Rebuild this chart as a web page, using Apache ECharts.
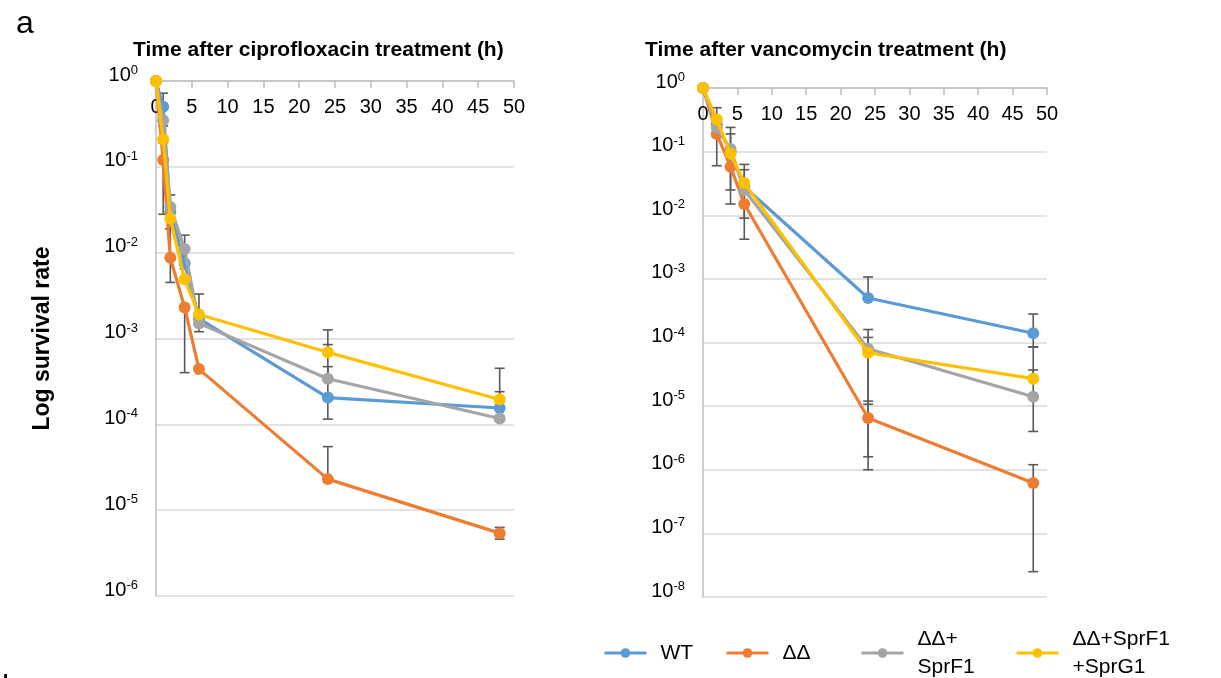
<!DOCTYPE html>
<html><head><meta charset="utf-8">
<script src="https://cdn.jsdelivr.net/npm/echarts@6/dist/echarts.min.js"></script>
<style>html,body{margin:0;padding:0;background:#fff}#c{width:1221px;height:678px}</style>
</head><body><div id="c"></div>
<script>
const seriesNames = ['WT', 'ΔΔ', 'ΔΔ+SprF1', 'ΔΔ+SprF1+SprG1'];
const legendLabels = ['WT', 'ΔΔ', 'ΔΔ+\nSprF1', 'ΔΔ+SprF1\n+SprG1'];
const colors = ['#5B9BD5', '#ED7D31', '#A5A5A5', '#FFC000'];
const xTicks = [0, 5, 10, 15, 20, 25, 30, 35, 40, 45, 50];

// ciprofloxacin panel
const ciproTimes = [0, 1, 2, 4, 6, 24, 48];
const ciproWT = [1, 0.5, 0.03, 0.0075, 0.0017, 2.05e-4, 1.55e-4];
const ciproDD = [1, 0.12, 0.0087, 0.0023, 4.4e-4, 2.3e-5, 5.4e-6];
const ciproF1 = [1, 0.35, 0.034, 0.011, 0.0015, 3.4e-4, 1.17e-4];
const ciproF1G1 = [1, 0.21, 0.025, 0.0049, 0.0019, 6.9e-4, 1.95e-4];
// error bars: [time, low, high]
const ciproWTErr = [[1, 0.3, 0.72], [24, 1.15e-4, 4.7e-4], [48, 1.55e-4, 2.4e-4]];
const ciproDDErr = [[1, 0.028, 0.19], [2, 0.0045, 0.019], [4, 4.0e-4, 0.0023], [24, 2.3e-5, 5.5e-5], [48, 4.6e-6, 6.3e-6]];
const ciproF1Err = [[2, 0.034, 0.047], [4, 0.0065, 0.016], [6, 0.0012, 0.0015], [24, 3.4e-4, 8.5e-4]];
const ciproF1G1Err = [[2, 0.019, 0.025], [6, 0.0019, 0.0033], [24, 6.9e-4, 1.26e-3], [48, 1.95e-4, 4.5e-4]];

// vancomycin panel
const vancoTimes = [0, 2, 4, 6, 24, 48];
const vancoWT = [1, 0.27, 0.1, 0.028, 5.0e-4, 1.4e-4];
const vancoDD = [1, 0.19, 0.058, 0.015, 6.5e-6, 6.2e-7];
const vancoF1 = [1, 0.24, 0.11, 0.025, 8e-5, 1.4e-5];
const vancoF1G1 = [1, 0.32, 0.093, 0.032, 6.9e-5, 2.7e-5];
const vancoWTErr = [[2, 0.27, 0.49], [4, 0.025, 0.1], [6, 0.009, 0.028], [24, 5.0e-4, 1.07e-3], [48, 8.5e-5, 2.8e-4]];
const vancoDDErr = [[2, 0.06, 0.19], [4, 0.015, 0.058], [6, 0.0042, 0.015], [24, 1.0e-6, 1.2e-5], [48, 2.5e-8, 1.2e-6]];
const vancoF1Err = [[2, 0.17, 0.24], [4, 0.11, 0.24], [6, 0.025, 0.052], [24, 1.6e-6, 1.6e-4], [48, 4e-6, 3.7e-5]];
const vancoF1G1Err = [[4, 0.093, 0.19], [6, 0.032, 0.063], [24, 1.07e-5, 1.2e-4], [48, 2.7e-5, 8.5e-5]];

const FONT = 'Liberation Sans, Arial, Helvetica, sans-serif';

const ciproVals = [ciproWT, ciproDD, ciproF1, ciproF1G1];
const ciproErrs = [ciproWTErr, ciproDDErr, ciproF1Err, ciproF1G1Err];
const vancoVals = [vancoWT, vancoDD, vancoF1, vancoF1G1];
const vancoErrs = [vancoWTErr, vancoDDErr, vancoF1Err, vancoF1G1Err];

function errRender(params, api) {
  const x = api.value(0), lo = api.value(1), hi = api.value(2);
  const p1 = api.coord([x, lo]);
  const p2 = api.coord([x, hi]);
  const w = 5;
  const st = { stroke: '#595959', lineWidth: 1.6 };
  return { type: 'group', children: [
    { type: 'line', shape: { x1: p1[0], y1: p1[1], x2: p2[0], y2: p2[1] }, style: st },
    { type: 'line', shape: { x1: p1[0] - w, y1: p1[1], x2: p1[0] + w, y2: p1[1] }, style: st },
    { type: 'line', shape: { x1: p2[0] - w, y1: p2[1], x2: p2[0] + w, y2: p2[1] }, style: st }
  ]};
}

function yLabel(v) {
  const e = Math.round(Math.log10(v));
  return '{b|10}{s|' + e + '}';
}

function makeX(idx) {
  return {
    type: 'value', gridIndex: idx, position: 'top', min: 0, max: 50, interval: 5,
    axisLine: { show: true, lineStyle: { color: '#BFBFBF', width: 1.5 } },
    axisTick: { show: true, inside: true, length: 7, lineStyle: { color: '#BFBFBF', width: 1.5 } },
    axisLabel: { inside: true, margin: 16, fontSize: 20, color: '#000', fontFamily: FONT, verticalAlign: 'top' },
    splitLine: { show: false }
  };
}
function makeY(idx, min, extra) {
  return Object.assign({
    type: 'log', logBase: 10, gridIndex: idx, min: min, max: 1,
    axisLine: { show: true, onZero: false, lineStyle: { color: '#BFBFBF', width: 1.5 } },
    axisTick: { show: false },
    splitLine: { show: true, lineStyle: { color: '#D9D9D9', width: 1.5 } },
    axisLabel: {
      margin: 18, formatter: yLabel, color: '#000', padding: [0, 0, 14, 0],
      rich: {
        b: { fontSize: 20, fontFamily: FONT, color: '#000', lineHeight: 22, verticalAlign: 'bottom' },
        s: { fontSize: 13, fontFamily: FONT, color: '#000', lineHeight: 22, verticalAlign: 'top', padding: [1, 0, 0, 0] }
      }
    }
  }, extra || {});
}

const series = [];
function addPanel(idx, times, vals, errs) {
  for (let i = 0; i < 4; i++) {
    series.push({
      type: 'custom', name: 'err' + idx + '_' + i, xAxisIndex: idx, yAxisIndex: idx,
      data: errs[i], encode: { x: 0, y: [1, 2] }, renderItem: errRender, z: 1, silent: true
    });
  }
  for (let i = 0; i < 4; i++) {
    series.push({
      type: 'line', name: seriesNames[i], xAxisIndex: idx, yAxisIndex: idx,
      data: times.map((t, j) => [t, vals[i][j]]),
      symbol: 'circle', symbolSize: 12, showSymbol: true,
      lineStyle: { width: 3.2, color: colors[i] },
      itemStyle: { color: colors[i] }, z: 2 + i
    });
  }
}
addPanel(0, ciproTimes, ciproVals, ciproErrs);
addPanel(1, vancoTimes, vancoVals, vancoErrs);

const legendLefts = [598, 720, 855, 1010];
const legendTops = [634, 634, 620, 620];
const legends = seriesNames.map((n, i) => ({
  data: [n], left: legendLefts[i], top: legendTops[i], orient: 'horizontal',
  itemWidth: 42, itemHeight: 12, selectedMode: false,
  lineStyle: { width: 3 },
  formatter: () => legendLabels[i],
  textStyle: { fontSize: 21, fontFamily: FONT, color: '#000', lineHeight: 28, padding: [0, 0, 0, 9] }
}));

const option = {
  animation: false,
  backgroundColor: '#fff',
  title: [
    { text: 'a', left: 11, top: 3, textStyle: { fontSize: 32, fontWeight: 'normal', fontFamily: FONT, color: '#000' } },
    { text: 'b', left: -3, top: 667, textStyle: { fontSize: 32, fontWeight: 'normal', fontFamily: FONT, color: '#000' } },
    { text: 'Time after ciprofloxacin treatment (h)', left: 128, top: 35, textStyle: { fontSize: 21, fontWeight: 'bold', fontFamily: FONT, color: '#000' } },
    { text: 'Time after vancomycin treatment (h)', left: 640, top: 35, textStyle: { fontSize: 21, fontWeight: 'bold', fontFamily: FONT, color: '#000' } }
  ],
  grid: [
    { left: 156, right: 707, top: 81, bottom: 82 },
    { left: 703, right: 174, top: 88, bottom: 81 }
  ],
  xAxis: [makeX(0), makeX(1)],
  yAxis: [
    makeY(0, 1e-6, { name: 'Log survival rate', nameLocation: 'middle', nameRotate: 90, nameGap: 102,
      nameTextStyle: { fontSize: 23, fontWeight: 'bold', fontFamily: FONT, color: '#000' } }),
    makeY(1, 1e-8)
  ],
  legend: legends,
  series: series
};
const chart = echarts.init(document.getElementById('c'), null, { renderer: 'canvas' });
chart.setOption(option);
</script></body></html>
